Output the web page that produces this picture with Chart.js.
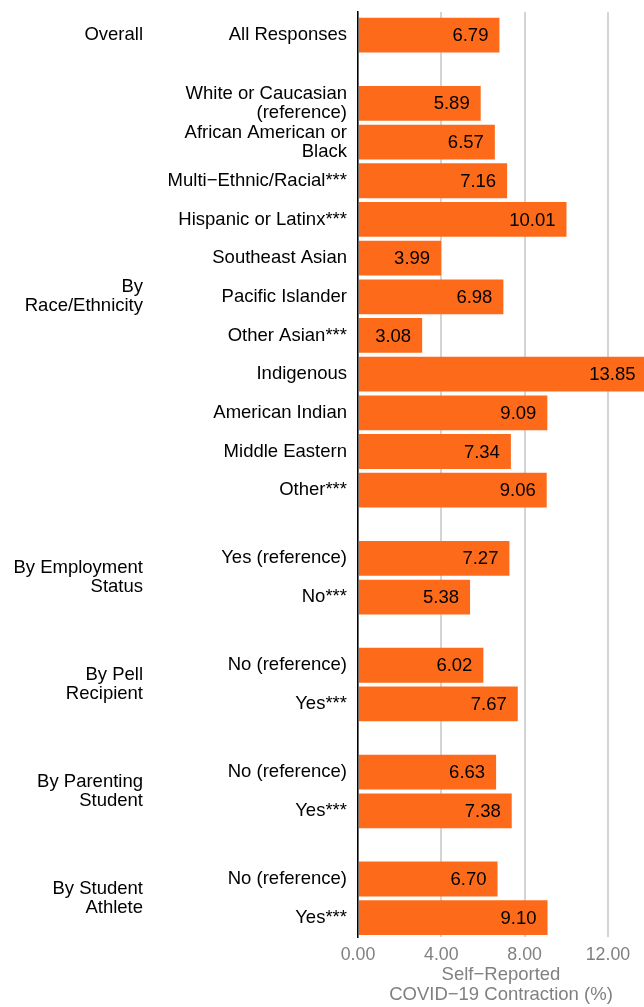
<!DOCTYPE html>
<html>
<head>
<meta charset="utf-8">
<script src="https://cdn.jsdelivr.net/npm/chart.js"></script>
<style>
  html, body { margin: 0; padding: 0; background: #fff; }
  #wrap { width: 644px; height: 1007px; position: relative; }
</style>
</head>
<body>
<div id="wrap"><canvas id="chart"></canvas></div>
<script>
// groups (left column) and how many rows each one holds
const groupNames = [
    'Overall',
    ['By', 'Race/Ethnicity'],
    ['By Employment', 'Status'],
    ['By Pell', 'Recipient'],
    ['By Parenting', 'Student'],
    ['By Student', 'Athlete']
];
const groupSizes = [1, 11, 2, 2, 2, 2];

const categories = [
    'All Responses',
    ['White or Caucasian', '(reference)'],
    ['African American or', 'Black'],
    'Multi\u2212Ethnic/Racial***',
    'Hispanic or Latinx***',
    'Southeast Asian',
    'Pacific Islander',
    'Other Asian***',
    'Indigenous',
    'American Indian',
    'Middle Eastern',
    'Other***',
    'Yes (reference)',
    'No***',
    'No (reference)',
    'Yes***',
    'No (reference)',
    'Yes***',
    'No (reference)',
    'Yes***'
];
const values = [
    6.79,
    5.89, 6.57, 7.16, 10.01, 3.99, 6.98, 3.08, 13.85, 9.09, 7.34, 9.06,
    7.27, 5.38,
    6.02, 7.67,
    6.63, 7.38,
    6.70, 9.10
];
const xTicks = [0, 4, 8, 12];
const xTitle = ['Self\u2212Reported', 'COVID\u221219 Contraction (%)'];

const FONT = '"Liberation Sans", Arial, Helvetica, sans-serif';
const ORANGE = '#fd6a1a';
const GAP = 0.763; // extra space between groups, in rows

// row index -> position on the y scale (groups get a bit of extra room)
const rowGroup = [];
groupSizes.forEach((n, g) => { for (let k = 0; k < n; k++) rowGroup.push(g); });
const rowPos = categories.map((_, i) => i + rowGroup[i] * GAP);
const lastPos = rowPos[rowPos.length - 1];

const labelFor = {};
rowPos.forEach((p, i) => { labelFor[p.toFixed(3)] = categories[i]; });

const valueLabels = {
    id: 'valueLabels',
    afterDatasetsDraw(chart) {
        const ctx = chart.ctx;
        const meta = chart.getDatasetMeta(0);
        ctx.save();
        ctx.font = '18.5px ' + FONT;
        ctx.fillStyle = '#000';
        ctx.textAlign = 'right';
        ctx.textBaseline = 'middle';
        meta.data.forEach((bar, i) => {
            ctx.fillText(values[i].toFixed(2), bar.x - 11, bar.y + 1);
        });
        ctx.restore();
    }
};

const groupLabels = {
    id: 'groupLabels',
    afterDraw(chart) {
        const ctx = chart.ctx;
        const y = chart.scales.y;
        ctx.save();
        ctx.font = '18.5px ' + FONT;
        ctx.fillStyle = '#000';
        ctx.textAlign = 'right';
        ctx.textBaseline = 'middle';
        let start = 0;
        groupNames.forEach((name, g) => {
            const first = rowPos[start];
            const last = rowPos[start + groupSizes[g] - 1];
            const mid = y.getPixelForValue((first + last) / 2);
            const lines = Array.isArray(name) ? name : [name];
            const lh = 19;
            lines.forEach((line, k) => {
                ctx.fillText(line, 143, mid + (k - (lines.length - 1) / 2) * lh);
            });
            start += groupSizes[g];
        });
        ctx.restore();
    }
};

new Chart(document.getElementById('chart'), {
    type: 'bar',
    data: {
        datasets: [{
            data: values.map((v, i) => ({ x: v, y: rowPos[i] })),
            backgroundColor: ORANGE,
            borderWidth: 0,
            barPercentage: 0.9,
            categoryPercentage: 1
        }]
    },
    options: {
        indexAxis: 'y',
        responsive: true,
        maintainAspectRatio: false,
        animation: false,
        layout: { padding: { top: 12, right: 0, bottom: 0, left: 0 } },
        plugins: {
            legend: { display: false },
            tooltip: { enabled: false }
        },
        scales: {
            x: {
                type: 'linear',
                min: 0,
                max: 13.73,
                afterBuildTicks: (scale) => { scale.ticks = xTicks.map(v => ({ value: v })); },
                afterFit: (scale) => {
                    scale.height = 70;
                    scale.paddingLeft = 0;
                    scale.paddingRight = 0;
                },
                grid: { color: '#d4d4d4', lineWidth: 2, drawTicks: false },
                border: { display: false },
                ticks: {
                    color: '#808080',
                    padding: 7,
                    font: { family: FONT, size: 17.8 },
                    callback: (v) => Number(v).toFixed(2),
                    maxRotation: 0
                },
                title: {
                    display: true,
                    text: xTitle,
                    color: '#808080',
                    font: { family: FONT, size: 18.5, lineHeight: 1.08 },
                    padding: { top: 0, bottom: 2 }
                }
            },
            y: {
                type: 'linear',
                reverse: true,
                offset: false,
                min: -0.6,
                max: lastPos + 0.5,
                afterBuildTicks: (scale) => { scale.ticks = rowPos.map(v => ({ value: v })); },
                afterFit: (scale) => {
                    scale.width = 358;
                    scale.paddingTop = 0;
                    scale.paddingBottom = 0;
                },
                grid: { display: false, drawTicks: false, offset: false },
                border: { display: true, color: '#000', width: 1.5 },
                ticks: {
                    color: '#000',
                    padding: 11,
                    autoSkip: false,
                    font: { family: FONT, size: 18.5, lineHeight: 1.03 },
                    callback: (v) => labelFor[Number(v).toFixed(3)] || ''
                }
            }
        }
    },
    plugins: [valueLabels, groupLabels]
});
</script>
</body>
</html>
